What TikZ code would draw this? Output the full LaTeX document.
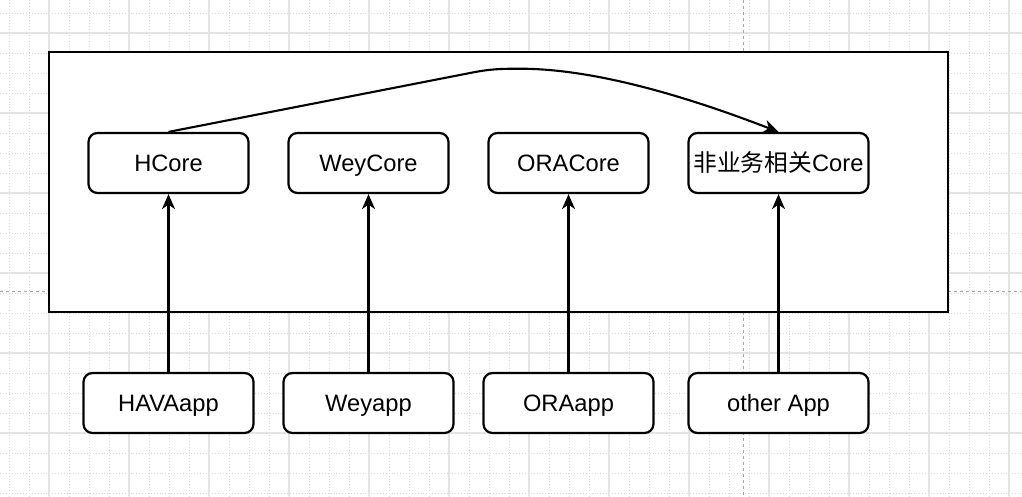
\documentclass[tikz,border=0pt]{standalone}
\usepackage{fontspec}
\setmainfont{Liberation Sans}
\newfontfamily\cjk{Noto Sans CJK SC}
\usepackage{xcolor}
\usetikzlibrary{arrows.meta,positioning}
\definecolor{gridmajor}{RGB}{228,228,228}
\definecolor{gridminor}{RGB}{218,218,218}
\definecolor{pagebreak}{RGB}{165,165,165}
\tikzset{
  core box/.style={
    draw,
    fill=white,
    line width=2.2pt,
    rounded corners=9pt,
    minimum width=160pt,
    minimum height=60pt,
    inner sep=0pt,
    text height=17pt,
    text depth=0pt,
    font=\fontsize{23.7}{28}\selectfont
  },
  app box/.style={
    core box,
    minimum width=170pt
  },
  wide box/.style={
    core box,
    minimum width=180pt
  },
  arrow/.style={
    -{Stealth[length=15pt,width=13pt,inset=4.5pt]},
    line width=2.1pt
  }
}

\begin{document}
\begin{tikzpicture}[x=1pt,y=-1pt]
  \useasboundingbox (0,0) rectangle (1022,496);
  \fill[white] (0,0) rectangle (1022,496);

  % Background grid
  \foreach \x in {9,29,...,1009}
    \draw[gridminor, dotted, line width=0.9pt] (\x,0) -- (\x,496);
  \foreach \y in {13,33,...,493}
    \draw[gridminor, dotted, line width=0.9pt] (0,\y) -- (1022,\y);
  \foreach \x in {49,129,...,1009}
    \draw[gridmajor, line width=1.2pt] (\x,0) -- (\x,496);
  \foreach \y in {33,113,...,433}
    \draw[gridmajor, line width=1.2pt] (0,\y) -- (1022,\y);

  % Page breaks
  \draw[pagebreak, dashed, line width=0.8pt] (0,291) -- (1022,291);
  \draw[pagebreak, dashed, line width=0.8pt] (743,0) -- (743,496);

  % Core container
  \draw[line width=2.4pt, fill=white] (49,52) rectangle (948,312);

  % Cores
  \node[core box] (hcore) at (168.5,163) {HCore};
  \node[core box] (weycore) at (368.5,163) {WeyCore};
  \node[core box] (oracore) at (568.5,163) {ORACore};
  \node[wide box] (commoncore) at (778.5,163) {{\cjk 非业务相关}Core};

  % Apps
  \node[app box] (havaapp) at (168.5,403) {HAVAapp};
  \node[app box] (weyapp) at (368.5,403) {Weyapp};
  \node[app box] (oraapp) at (568.5,403) {ORAapp};
  \node[wide box] (otherapp) at (778.5,403) {other App};

  % Connections
  \draw[arrow] (havaapp) -- (hcore);
  \draw[arrow] (weyapp) -- (weycore);
  \draw[arrow] (oraapp) -- (oracore);
  \draw[arrow] (otherapp) -- (commoncore);
  \draw[arrow] (hcore.north) -- (470,73)
    .. controls (490,69) and (500,68.7) .. (520,68.7)
    .. controls (600,68.7) and (698.5,101) .. (commoncore.north);
\end{tikzpicture}
\end{document}
